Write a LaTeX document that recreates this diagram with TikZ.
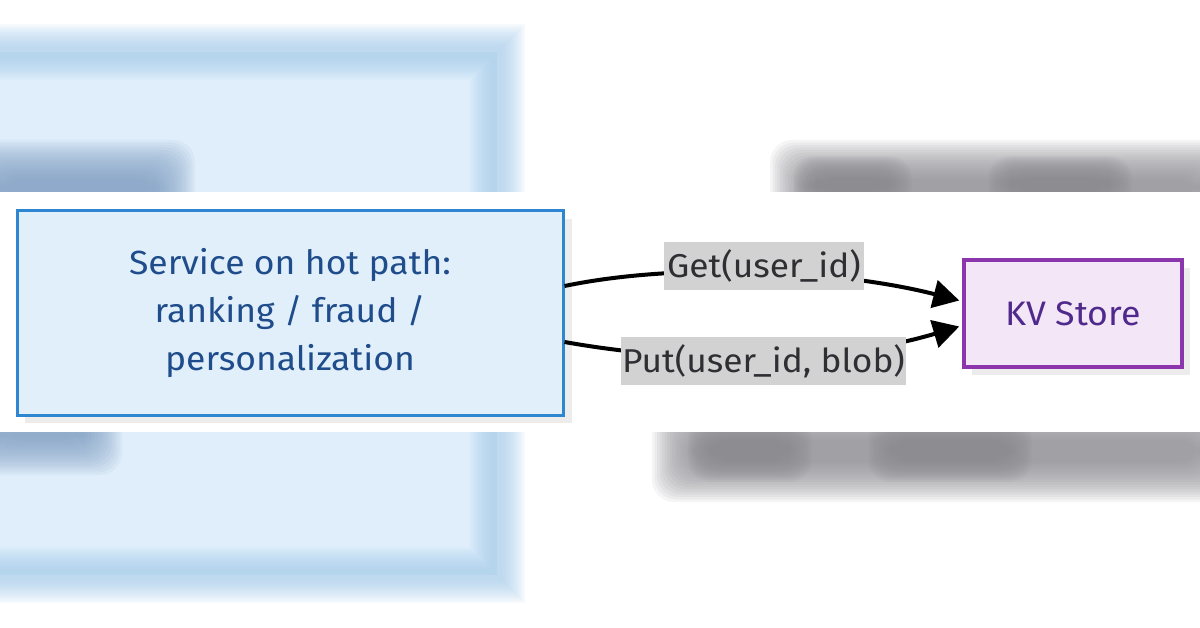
\documentclass[tikz,border=0pt]{standalone}
\usepackage{fontspec}
\setmainfont{Fira Sans}
\newfontfamily\svcfont[FakeStretch=1.06]{Fira Sans}
\newfontfamily\kvfont[FakeStretch=1.05]{Fira Sans}
\newfontfamily\lblfont[FakeStretch=1.07]{Fira Sans}
\usetikzlibrary{arrows.meta,calc}
\definecolor{bgfill}{HTML}{E0EEFB}
\definecolor{bgband}{HTML}{A6CDEC}
\definecolor{bgtext}{HTML}{7E9DC2}
\definecolor{bggray}{HTML}{8C8C91}
\definecolor{svcfill}{HTML}{E1EFFB}
\definecolor{svcline}{HTML}{2E86D0}
\definecolor{svctext}{HTML}{1F4C8A}
\definecolor{kvfill}{HTML}{F3E6F7}
\definecolor{kvline}{HTML}{8C36AE}
\definecolor{kvtext}{HTML}{4F2A8C}
\definecolor{lblfill}{HTML}{D2D2D2}
\definecolor{lbltext}{HTML}{2E2E33}
\definecolor{shadowc}{HTML}{ECECEC}
\newcommand\softblob[6]{%
  \foreach \k in {-8,...,8}{%
    \fill[#5,opacity=0.085,rounded corners=22pt]
      ({#1-\k*#6},{#2-\k*#6}) rectangle ({#3+\k*#6},{#4+\k*#6});
  }%
}
\tikzset{
  svcbox/.style={draw=svcline,line width=3pt,fill=svcfill,minimum width=546pt,
    minimum height=204pt,align=center,text=svctext,inner sep=0pt,
    font=\svcfont\fontsize{33.5}{48}\selectfont},
  kvbox/.style={draw=kvline,line width=3.5pt,fill=kvfill,minimum width=218pt,
    minimum height=107pt,text=kvtext,inner sep=0pt,font=\kvfont\fontsize{34}{40}\selectfont},
  lbl/.style={fill=lblfill,text=lbltext,inner sep=0pt,minimum height=48pt,
    font=\lblfont\fontsize{33}{38}\selectfont},
  edge/.style={line width=4pt,black,-{Triangle[length=26pt,width=28pt]}},
}
\begin{document}
\begin{tikzpicture}[x=1pt,y=-1pt]
\useasboundingbox (0,0) rectangle (1200,628);
\fill[white] (0,0) rectangle (1200,628);
% ---- blurred background (enlarged copy of the diagram) ----
\begin{scope}
\clip (0,0) rectangle (1200,628);
\fill[bgfill] (-100,52) rectangle (497,575);
\foreach \w in {56,52,...,12}{
  \draw[bgband,opacity=0.09,line width=\w pt] (-100,52) rectangle (497,575);
}
\softblob{-20}{160}{175}{215}{bgtext}{2.5}
\softblob{-20}{415}{102}{455}{bgtext}{2.5}
\softblob{790}{160}{1220}{215}{bggray}{2.5}
\softblob{805}{168}{900}{200}{bggray}{1.5}
\softblob{1000}{168}{1120}{200}{bggray}{1.5}
\softblob{672}{420}{1220}{482}{bggray}{2.5}
\softblob{700}{430}{800}{470}{bggray}{1.5}
\softblob{880}{430}{1020}{470}{bggray}{1.5}
\end{scope}
% ---- sharp strip ----
\fill[white] (0,192) rectangle (1200,432);
\fill[shadowc] (25,219) rectangle (572,423);
\fill[shadowc] (972,268) rectangle (1190,375);
\node[svcbox] (svc) at (290,313) {Service on hot path:\\ranking / fraud /\\personalization};
\node[kvbox] (kv) at (1073,313.5) {KV Store};
\draw[edge] ($(svc.east)+(0,-27)$) .. controls (680,262) and (840,270) .. ($(kv.west)+(-3,-13)$);
\draw[edge] ($(svc.east)+(0,29)$) .. controls (700,366) and (840,362) .. ($(kv.west)+(-3,13)$);
\node[lbl,minimum width=200pt] (getl) at (764,266) {Get(user\_id)};
\node[lbl,minimum width=285pt] (putl) at (763.5,361) {Put(user\_id, blob)};
\end{tikzpicture}
\end{document}
